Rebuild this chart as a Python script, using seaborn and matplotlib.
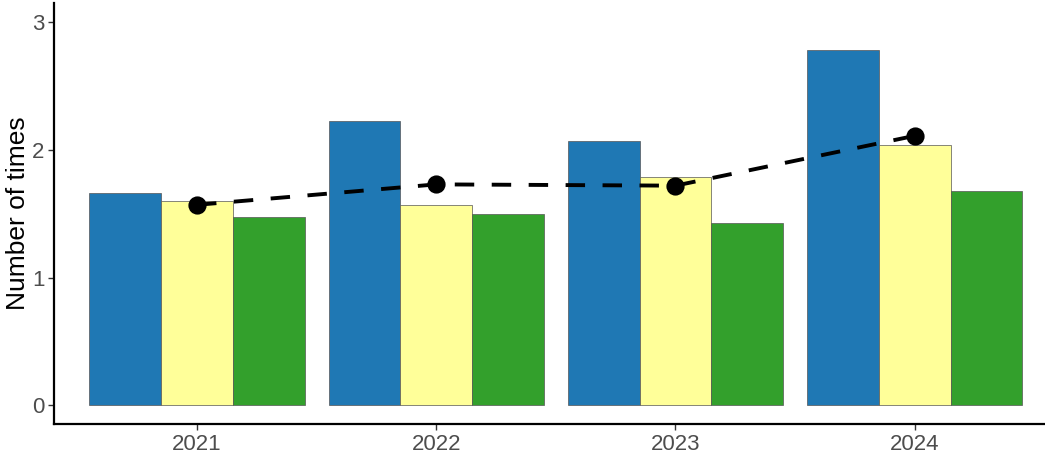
import matplotlib
matplotlib.use("Agg")
import matplotlib.pyplot as plt
import numpy as np
import pandas as pd
import seaborn as sns

# values
years = ["2021", "2022", "2023", "2024"]
groups = ["A", "B", "C"]
vals_a = [1.66, 2.23, 2.07, 2.78]
vals_b = [1.60, 1.57, 1.785, 2.04]
vals_c = [1.475, 1.50, 1.425, 1.68]
line_vals = [1.57, 1.73, 1.72, 2.11]
colors = ["#1F78B4", "#FFFF99", "#33A02C"]

df = pd.DataFrame({
    "year": years * 3,
    "grp": np.repeat(groups, len(years)),
    "val": vals_a + vals_b + vals_c,
})
dline = pd.DataFrame({"year": years, "val": line_vals})

sns.set_style("white")
plt.rcParams["font.family"] = ["Liberation Sans", "DejaVu Sans"]

fig = plt.figure(figsize=(10.45, 4.57), dpi=100)
ax = fig.add_axes([54 / 1045, 33 / 457, 1 - 54 / 1045, 421 / 457])

sns.barplot(data=df, x="year", y="val", hue="grp", order=years,
            hue_order=groups, palette=colors, saturation=1, width=0.9, gap=0,
            edgecolor="#555555", linewidth=0.5, legend=False, ax=ax)
sns.pointplot(data=dline, x="year", y="val", order=years, color="black",
              markers="o", linestyles="--", markersize=11, linewidth=2.8,
              ax=ax)
for ln in ax.lines:
    if ln.get_linestyle() == "--":
        ln.set_dashes((5, 4.5))

ax.set_xlim(-0.598, 3.545)
ax.set_ylim(-0.146, 3.15)
ax.set_yticks([0, 1, 2, 3])
ax.set_xlabel("")
ax.set_ylabel("Number of times", fontsize=19, color="black", labelpad=1)
ax.tick_params(axis="both", labelsize=16, labelcolor="#4D4D4D",
               bottom=True, left=True, length=4, width=1,
               color="#333333", direction="out", pad=3)
for s in ["top", "right"]:
    ax.spines[s].set_visible(False)
for s in ["left", "bottom"]:
    ax.spines[s].set_linewidth(1.6)
    ax.spines[s].set_color("black")

fig.savefig("out.png", dpi=100)
